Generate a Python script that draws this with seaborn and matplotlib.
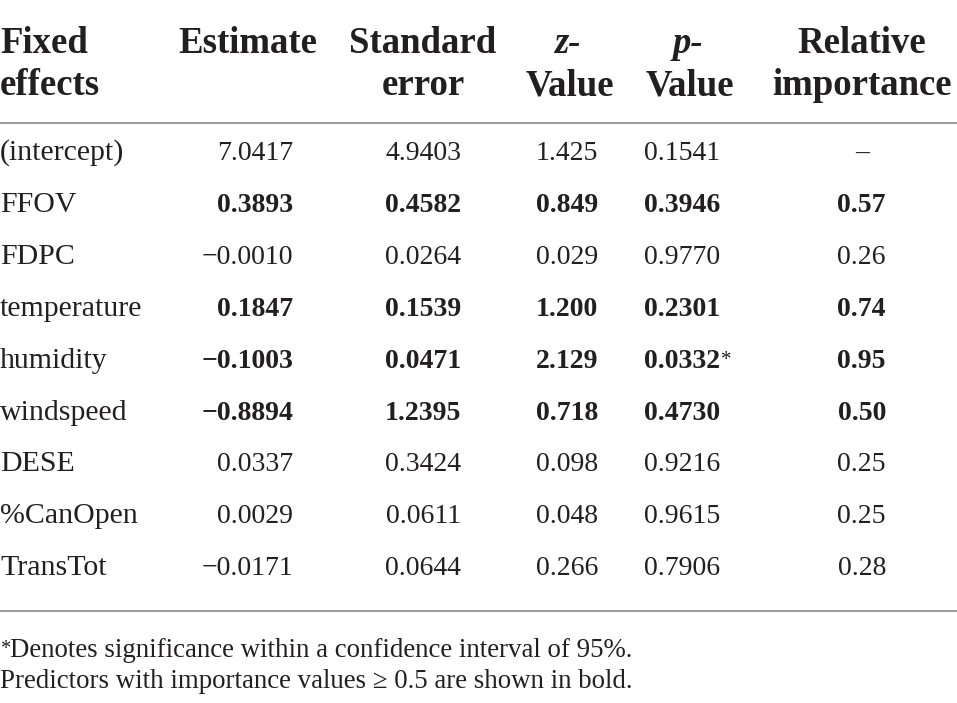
import pandas as pd
import seaborn as sns
import matplotlib.pyplot as plt

# данные таблицы
effects = ["(intercept)", "FFOV", "FDPC", "temperature", "humidity",
           "windspeed", "DESE", "%CanOpen", "TransTot"]
estimate = ["7.0417", "0.3893", "\u22120.0010", "0.1847", "\u22120.1003",
            "\u22120.8894", "0.0337", "0.0029", "\u22120.0171"]
std_error = ["4.9403", "0.4582", "0.0264", "0.1539", "0.0471",
             "1.2395", "0.3424", "0.0611", "0.0644"]
z_value = ["1.425", "0.849", "0.029", "1.200", "2.129",
           "0.718", "0.098", "0.048", "0.266"]
p_value = ["0.1541", "0.3946", "0.9770", "0.2301", "0.0332",
           "0.4730", "0.9216", "0.9615", "0.7906"]
p_signif = [False, False, False, False, True, False, False, False, False]
importance = ["\u2013", "0.57", "0.26", "0.74", "0.95",
              "0.50", "0.25", "0.25", "0.28"]
importance_num = [None, 0.57, 0.26, 0.74, 0.95, 0.50, 0.25, 0.25, 0.28]
footnotes = ["Denotes significance within a confidence interval of 95%.",
             "Predictors with importance values \u2265 0.5 are shown in bold."]

df = pd.DataFrame({
    "effect": effects, "estimate": estimate, "se": std_error,
    "z": z_value, "p": p_value, "sig": p_signif,
    "imp": importance, "imp_num": importance_num,
})

sns.set_theme(style="white")
plt.rcParams["font.family"] = ["Liberation Serif", "DejaVu Serif"]

TEXT = "#231f20"
RULE = "#9a9a9a"
W, H = 957, 703

fig = plt.figure(figsize=(W / 100, H / 100), dpi=100)
ax = fig.add_axes([0, 0, 1, 1])
ax.set_xlim(0, W)
ax.set_ylim(H, 0)
ax.axis("off")
renderer = fig.canvas.get_renderer()

HEAD_FS = 26.5
NAME_FS = 21.5
NUM_FS = 20
NOTE_FS = 19.4


def star_after(t, size, weight="normal"):
    """Ставит маленькую звёздочку сразу после текста t"""
    bb = t.get_window_extent(renderer).transformed(ax.transData.inverted())
    x_end = max(bb.x0, bb.x1)
    y_top = min(bb.y0, bb.y1)
    ax.text(x_end + 1, y_top + 2, "*", fontsize=size, fontweight=weight,
            color=TEXT, ha="left", va="top")


# заголовки
h1, h2 = 53, 95
hk = dict(fontsize=HEAD_FS, fontweight="bold", color=TEXT, va="baseline")
ax.text(0, h1, "Fixed", ha="left", **hk)
ax.text(0, h2, "effects", ha="left", **hk)
ax.text(248, h1, "Estimate", ha="center", **hk)
ax.text(423, h1, "Standard", ha="center", **hk)
ax.text(423, h2, "error", ha="center", **hk)
ax.text(567, h1, "z-", ha="center", style="italic", **hk)
ax.text(570, h2, "Value", ha="center", **hk)
ax.text(688, h1, "p-", ha="center", style="italic", **hk)
ax.text(690, h2, "Value", ha="center", **hk)
ax.text(862, h1, "Relative", ha="center", **hk)
ax.text(862, h2, "importance", ha="center", **hk)

ax.axhline(123, color=RULE, lw=1.4)
ax.axhline(611, color=RULE, lw=1.4)

# строки таблицы
row0, step = 160, 51.9
for i, r in df.iterrows():
    y = row0 + step * i
    bold = r["imp_num"] is not None and not pd.isna(r["imp_num"]) and r["imp_num"] >= 0.5
    fw = "bold" if bold else "normal"
    kw = dict(fontsize=NUM_FS, color=TEXT, va="baseline")
    ax.text(0, y, r["effect"], ha="left", fontsize=NAME_FS, color=TEXT, va="baseline")
    ax.text(293, y, r["estimate"], ha="right", fontweight=fw, **kw)
    ax.text(461, y, r["se"], ha="right", fontweight=fw, **kw)
    ax.text(598, y, r["z"], ha="right", fontweight=fw, **kw)
    tp = ax.text(644, y, r["p"], ha="left", fontweight=fw, **kw)
    if r["sig"]:
        star_after(tp, NUM_FS * 0.75)
    if r["imp"] == "\u2013":
        ax.text(862, y, r["imp"], ha="center", **kw)
    else:
        ax.text(886, y, r["imp"], ha="right", fontweight=fw, **kw)

ax.text(0, 640, "*", fontsize=NOTE_FS * 0.75, color=TEXT, ha="left", va="top")
ax.text(10, 657, footnotes[0], fontsize=NOTE_FS, color=TEXT, ha="left", va="baseline")
ax.text(0, 688, footnotes[1], fontsize=NOTE_FS, color=TEXT, ha="left", va="baseline")

fig.savefig("out.png", dpi=100, facecolor="white")
